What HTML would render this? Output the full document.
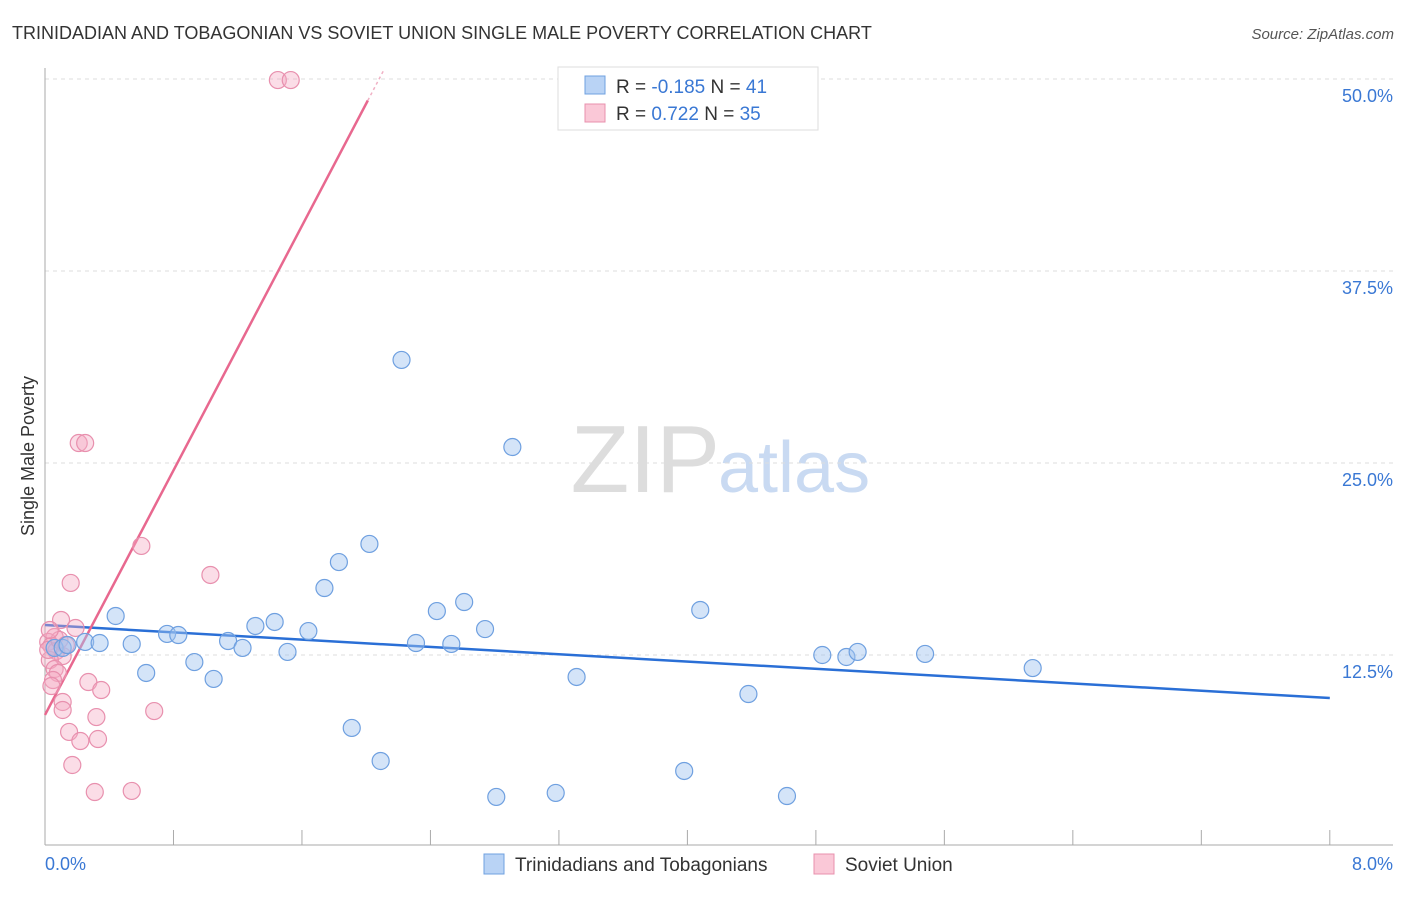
<!DOCTYPE html>
<html><head><meta charset="utf-8"><style>
body{margin:0;background:#fff;font-family:"Liberation Sans",sans-serif;}
svg text{font-family:"Liberation Sans",sans-serif;}
</style></head><body>
<svg id="c" width="1406" height="892" xmlns="http://www.w3.org/2000/svg">
<text x="12" y="39" font-size="18" fill="#333">TRINIDADIAN AND TOBAGONIAN VS SOVIET UNION SINGLE MALE POVERTY CORRELATION CHART</text>
<text x="1394" y="39" font-size="15" fill="#555" text-anchor="end" font-style="italic">Source: ZipAtlas.com</text>
<text x="720" y="492" font-size="96" fill="#ddd" text-anchor="end" font-family="Liberation Serif">ZIP</text>
<text x="718" y="492" font-size="72" fill="#c9daf2">atlas</text>
<g id="grid"></g>
<g id="axes"></g>
<g id="trend"></g>
<g id="pts"></g>
<text transform="translate(34,456) rotate(-90)" font-size="18" fill="#333" text-anchor="middle">Single Male Poverty</text>
<text x="45" y="870" font-size="18" fill="#3a78d4">0.0%</text>
<text x="1393" y="870" font-size="18" fill="#3a78d4" text-anchor="end">8.0%</text>
<g>
<rect x="558" y="67" width="260" height="63" fill="#fff" stroke="#ddd"/>
<rect x="585" y="76" width="20" height="18" fill="#b9d3f5" stroke="#6fa0e0"/>
<rect x="585" y="104" width="20" height="18" fill="#fac8d7" stroke="#e890ae"/>
<text x="616" y="93" font-size="19" fill="#333">R = <tspan fill="#3a78d4">-0.185</tspan>   N = <tspan fill="#3a78d4">41</tspan></text>
<text x="616" y="120" font-size="19" fill="#333">R =  <tspan fill="#3a78d4"> 0.722</tspan>   N = <tspan fill="#3a78d4">35</tspan></text>
</g>
<g>
<rect x="484" y="854" width="20" height="20" fill="#b9d3f5" stroke="#6fa0e0"/>
<text x="515" y="871" font-size="19" fill="#333">Trinidadians and Tobagonians</text>
<rect x="814" y="854" width="20" height="20" fill="#fac8d7" stroke="#e890ae"/>
<text x="845" y="871" font-size="19" fill="#333">Soviet Union</text>
</g>
</svg>
<script>
const yTicks=[12.5,25,37.5,50];
const yTickLabels=["12.5%","25.0%","37.5%","50.0%"];
const blueX=[0.06,0.11,0.14,0.25,0.34,0.44,0.54,0.63,0.76,0.83,0.93,1.05,1.14,1.23,1.31,1.43,1.51,1.64,1.74,1.83,1.91,2.02,2.09,2.22,2.31,2.44,2.53,2.61,2.74,2.81,2.91,3.18,3.31,3.98,4.08,4.38,4.62,4.84,4.99,5.06,5.48,6.15];
const blueY=[12.96,12.96,13.15,13.35,13.28,15.04,13.22,11.33,13.87,13.80,12.04,10.94,13.41,12.96,14.39,14.65,12.70,14.06,16.86,18.55,7.75,19.73,5.60,31.71,13.28,15.36,13.22,15.95,14.19,3.26,26.04,3.52,11.07,4.95,15.43,9.96,3.32,12.50,12.37,12.70,12.57,11.65];
const pinkX=[1.45,1.53,0.21,0.25,0.60,1.03,0.16,0.10,0.19,0.06,0.02,0.04,0.07,0.11,0.03,0.06,0.08,0.05,0.04,0.27,0.35,0.11,0.11,0.68,0.32,0.15,0.22,0.33,0.17,0.31,0.54,0.02,0.09,0.13,0.03];
const pinkY=[49.93,49.93,26.30,26.30,19.60,17.71,17.19,14.78,14.26,13.67,13.35,13.09,12.76,12.43,12.17,11.59,11.33,10.87,10.48,10.74,10.22,9.44,8.92,8.85,8.46,7.49,6.90,7.03,5.34,3.58,3.65,12.83,13.48,13.15,14.13];
const blueTrend=[14.45,-0.594];
const pinkTrend=[8.6,19.9];
const X=v=>45+v*160.6, Y=v=>847-v*15.36;
const NS="http://www.w3.org/2000/svg";
function mk(tag,attrs,parent){const e=document.createElementNS(NS,tag);for(const k in attrs)e.setAttribute(k,attrs[k]);document.getElementById(parent).appendChild(e);return e;}
yTicks.forEach((t,i)=>{
 const l=mk('line',{x1:45,x2:1393,y1:Y(t),y2:Y(t),stroke:'#ddd','stroke-dasharray':'4,4'},'grid');
 
 
 const tx=mk('text',{x:1393,y:Y(t)+23,'font-size':18,fill:'#3a78d4','text-anchor':'end'},'grid');
 tx.textContent=yTickLabels[i];
 
 
});
const ax=mk('line',{x1:45,x2:45,y1:68,y2:845,stroke:'#aaa'},'axes');


const bx=mk('line',{x1:45,x2:1393,y1:845,y2:845,stroke:'#aaa'},'axes');


for(let i=0;i<=10;i++){const t=mk('line',{x1:X(i*0.8),x2:X(i*0.8),y1:830,y2:845,stroke:'#aaa'},'axes');
 
 }
pinkX.forEach((x,i)=>{const c=mk('circle',{cx:X(x),cy:Y(pinkY[i]),r:8.5,fill:'rgba(245,170,195,0.4)',stroke:'#e890ae','stroke-width':1.2},'pts');
 
 });
blueX.forEach((x,i)=>{const c=mk('circle',{cx:X(x),cy:Y(blueY[i]),r:8.5,fill:'rgba(160,196,240,0.45)',stroke:'#6fa0e0','stroke-width':1.2},'pts');
 
 });
const bt=mk('line',{x1:X(0),y1:Y(blueTrend[0]),x2:X(8),y2:Y(blueTrend[0]+blueTrend[1]*8),stroke:'#2a6fd6','stroke-width':2.5},'trend');


const pxEnd=(48.6-pinkTrend[0])/pinkTrend[1];
const pt=mk('line',{x1:X(0),y1:Y(pinkTrend[0]),x2:X(pxEnd),y2:Y(pinkTrend[0]+pinkTrend[1]*pxEnd),stroke:'#e8688f','stroke-width':2.5},'trend');


const pxEnd2=(50.5-pinkTrend[0])/pinkTrend[1];
const pd=mk('line',{x1:X(pxEnd),y1:Y(pinkTrend[0]+pinkTrend[1]*pxEnd),x2:X(pxEnd2),y2:Y(50.5),stroke:'#f0b0c4','stroke-width':1.5,'stroke-dasharray':'3,3'},'trend');


</script>
</body></html>
